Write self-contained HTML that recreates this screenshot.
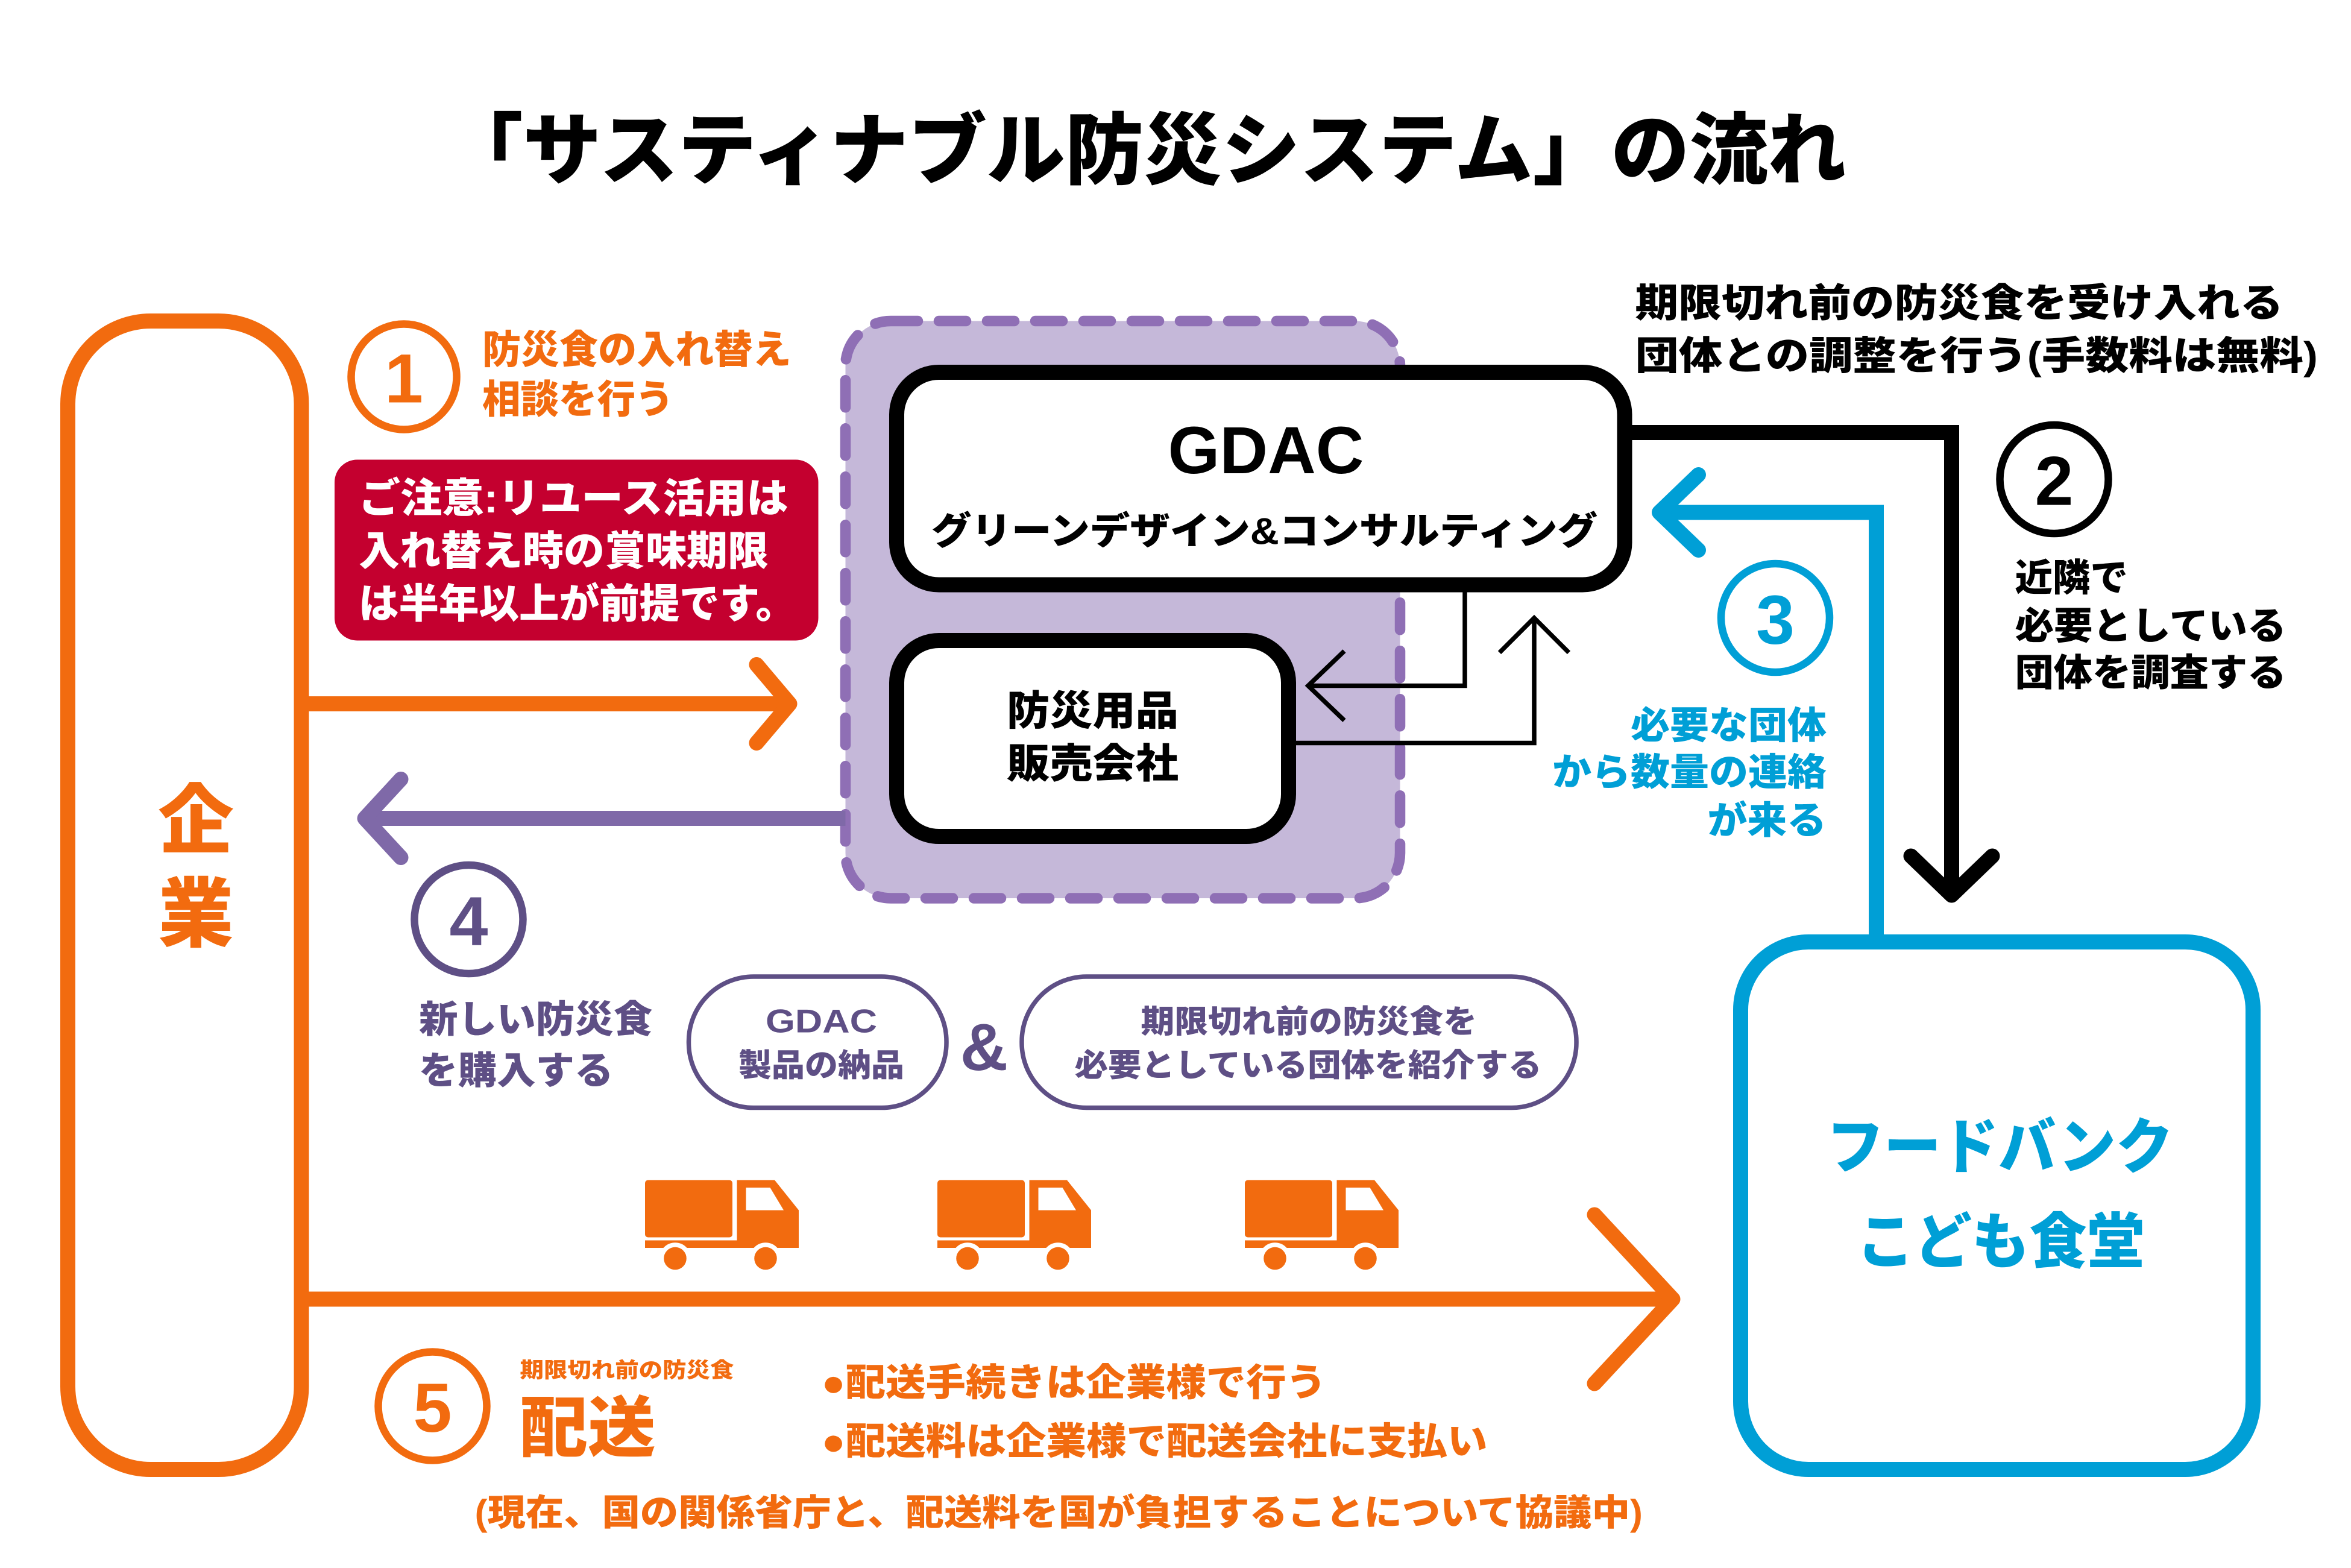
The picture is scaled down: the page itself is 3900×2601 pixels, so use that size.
<!DOCTYPE html>
<html><head><meta charset="utf-8"><style>
html,body{margin:0;padding:0;background:#fff;width:3900px;height:2601px;overflow:hidden}
svg{display:block}
text{font-family:"Liberation Sans","Noto Sans CJK JP",sans-serif;font-weight:900}
</style></head><body>
<svg width="3900" height="2601" viewBox="0 0 1560 1040.4" xmlns="http://www.w3.org/2000/svg">
<defs>
<g id="truck">
<rect x="0" y="0" width="58" height="38" rx="2" fill="#F26B0F"/>
<path d="M61 0 H86 L102 20 V45 H0 V40 H61 Z" fill="#F26B0F"/>
<path d="M67 5 H83 L92 20 H67 Z" fill="#fff"/>
<circle cx="20" cy="52" r="9" fill="#F26B0F" stroke="#fff" stroke-width="3"/>
<circle cx="80" cy="52" r="9" fill="#F26B0F" stroke="#fff" stroke-width="3"/>
</g>
</defs>
<text x="295" y="118" font-size="52" textLength="930" lengthAdjust="spacingAndGlyphs" fill="#000">「サスティナブル防災システム」の流れ</text>

<rect x="45" y="213" width="155" height="762" rx="55" fill="none" stroke="#F26B0F" stroke-width="10"/>
<text x="130" y="562" font-size="50" text-anchor="middle" fill="#F26B0F">企</text>
<text x="130" y="624" font-size="50" text-anchor="middle" fill="#F26B0F">業</text>

<circle cx="268" cy="250" r="35" fill="none" stroke="#F26B0F" stroke-width="5"/>
<text x="268" y="267" font-size="46" text-anchor="middle" fill="#F26B0F">1</text>
<text x="320" y="241" font-size="26" textLength="205" lengthAdjust="spacingAndGlyphs" fill="#F26B0F">防災食の入れ替え</text>
<text x="320" y="274" font-size="26" textLength="127" lengthAdjust="spacingAndGlyphs" fill="#F26B0F">相談を行う</text>
<rect x="222" y="305" width="321" height="120" rx="15" fill="#C4002F"/>
<text x="238" y="340" font-size="27" textLength="285" lengthAdjust="spacingAndGlyphs" fill="#fff">ご注意:リユース活用は</text>
<text x="238" y="375" font-size="27" textLength="272" lengthAdjust="spacingAndGlyphs" fill="#fff">入れ替え時の賞味期限</text>
<text x="238" y="410" font-size="27" textLength="290" lengthAdjust="spacingAndGlyphs" fill="#fff">は半年以上が前提です。</text>
<line x1="200" y1="467" x2="522" y2="467" stroke="#F26B0F" stroke-width="10"/>
<polyline points="502,441 524,467 502,493" fill="none" stroke="#F26B0F" stroke-width="10" stroke-linecap="round" stroke-linejoin="round"/>

<rect x="561" y="213" width="368" height="383" rx="30" fill="#C5B8D9" stroke="#8F6FB5" stroke-width="7" stroke-dasharray="18 14" stroke-linecap="round"/>
<rect x="595" y="247" width="483" height="141" rx="28" fill="#fff" stroke="#000" stroke-width="10"/>
<text x="775" y="314" font-size="44" textLength="130" lengthAdjust="spacingAndGlyphs" fill="#000">GDAC</text>
<text x="618" y="361" font-size="25" textLength="442" lengthAdjust="spacingAndGlyphs" fill="#000">グリーンデザイン&amp;コンサルティング</text>
<rect x="595" y="425" width="260" height="130" rx="28" fill="#fff" stroke="#000" stroke-width="10"/>
<text x="668" y="481" font-size="27" textLength="114" lengthAdjust="spacingAndGlyphs" fill="#000">防災用品</text>
<text x="668" y="516" font-size="27" textLength="114" lengthAdjust="spacingAndGlyphs" fill="#000">販売会社</text>
<polyline points="972,393 972,455 868,455" fill="none" stroke="#000" stroke-width="3"/>
<polyline points="892,432 868,455 892,478" fill="none" stroke="#000" stroke-width="3"/>
<polyline points="858,493 1018,493 1018,410" fill="none" stroke="#000" stroke-width="3"/>
<polyline points="995,433 1018,410 1041,433" fill="none" stroke="#000" stroke-width="3"/>

<line x1="561" y1="543" x2="243" y2="543" stroke="#7F69A8" stroke-width="10"/>
<polyline points="266,517 242,543 266,569" fill="none" stroke="#7F69A8" stroke-width="10" stroke-linecap="round" stroke-linejoin="round"/>

<polyline points="1078,287 1295,287 1295,592" fill="none" stroke="#000" stroke-width="10"/>
<polyline points="1268,568 1295,594 1322,568" fill="none" stroke="#000" stroke-width="10" stroke-linecap="round" stroke-linejoin="round"/>
<text x="1085" y="210" font-size="26" textLength="430" lengthAdjust="spacingAndGlyphs" fill="#000">期限切れ前の防災食を受け入れる</text>
<text x="1085" y="245" font-size="26" textLength="453" lengthAdjust="spacingAndGlyphs" fill="#000">団体との調整を行う(手数料は無料)</text>
<circle cx="1363" cy="318" r="36" fill="none" stroke="#000" stroke-width="5"/>
<text x="1363" y="335" font-size="46" text-anchor="middle" fill="#000">2</text>
<text x="1337" y="392" font-size="25" textLength="75" lengthAdjust="spacingAndGlyphs" fill="#000">近隣で</text>
<text x="1337" y="424" font-size="25" textLength="180" lengthAdjust="spacingAndGlyphs" fill="#000">必要としている</text>
<text x="1337" y="455" font-size="25" textLength="180" lengthAdjust="spacingAndGlyphs" fill="#000">団体を調査する</text>

<polyline points="1245,622 1245,340 1103,340" fill="none" stroke="#009FD6" stroke-width="10"/>
<polyline points="1127,315 1101,340 1127,365" fill="none" stroke="#009FD6" stroke-width="10" stroke-linecap="round" stroke-linejoin="round"/>
<circle cx="1178" cy="410" r="36" fill="none" stroke="#009FD6" stroke-width="5"/>
<text x="1178" y="427" font-size="46" text-anchor="middle" fill="#009FD6">3</text>
<text x="1082" y="490" font-size="25" textLength="130" lengthAdjust="spacingAndGlyphs" fill="#009FD6">必要な団体</text>
<text x="1030" y="521" font-size="25" textLength="182" lengthAdjust="spacingAndGlyphs" fill="#009FD6">から数量の連絡</text>
<text x="1133" y="553" font-size="25" textLength="79" lengthAdjust="spacingAndGlyphs" fill="#009FD6">が来る</text>
<rect x="1155" y="625" width="340" height="350" rx="45" fill="none" stroke="#009FD6" stroke-width="10"/>
<text x="1212" y="775" font-size="40" textLength="230" lengthAdjust="spacingAndGlyphs" fill="#009FD6">フードバンク</text>
<text x="1232" y="838" font-size="40" textLength="191" lengthAdjust="spacingAndGlyphs" fill="#009FD6">こども食堂</text>

<circle cx="311" cy="610" r="36" fill="none" stroke="#5E4F85" stroke-width="5"/>
<text x="311" y="627" font-size="46" text-anchor="middle" fill="#5E4F85">4</text>
<text x="278" y="685" font-size="25" textLength="155" lengthAdjust="spacingAndGlyphs" fill="#5E4F85">新しい防災食</text>
<text x="278" y="719" font-size="25" textLength="129" lengthAdjust="spacingAndGlyphs" fill="#5E4F85">を購入する</text>
<rect x="457" y="648" width="171" height="87" rx="43" fill="none" stroke="#5E4F85" stroke-width="3"/>
<text x="508" y="685" font-size="22" textLength="74" lengthAdjust="spacingAndGlyphs" fill="#5E4F85">GDAC</text>
<text x="490" y="714" font-size="21" textLength="110" lengthAdjust="spacingAndGlyphs" fill="#5E4F85">製品の納品</text>
<text x="653" y="710" font-size="44" text-anchor="middle" fill="#5E4F85">&amp;</text>
<rect x="678" y="648" width="368" height="87" rx="43" fill="none" stroke="#5E4F85" stroke-width="3"/>
<text x="757" y="685" font-size="21" textLength="223" lengthAdjust="spacingAndGlyphs" fill="#5E4F85">期限切れ前の防災食を</text>
<text x="713" y="714" font-size="21" textLength="310" lengthAdjust="spacingAndGlyphs" fill="#5E4F85">必要としている団体を紹介する</text>

<use href="#truck" x="428" y="783"/>
<use href="#truck" x="622" y="783"/>
<use href="#truck" x="826" y="783"/>

<line x1="200" y1="862" x2="1108" y2="862" stroke="#F26B0F" stroke-width="10"/>
<polyline points="1058,806 1110,862 1058,918" fill="none" stroke="#F26B0F" stroke-width="10" stroke-linecap="round" stroke-linejoin="round"/>

<circle cx="287" cy="933" r="36" fill="none" stroke="#F26B0F" stroke-width="5"/>
<text x="287" y="950" font-size="46" text-anchor="middle" fill="#F26B0F">5</text>
<text x="345" y="914" font-size="14" textLength="142" lengthAdjust="spacingAndGlyphs" fill="#F26B0F">期限切れ前の防災食</text>
<text x="345" y="963" font-size="44" textLength="90" lengthAdjust="spacingAndGlyphs" fill="#F26B0F">配送</text>
<text x="545" y="926" font-size="25" textLength="335" lengthAdjust="spacingAndGlyphs" fill="#F26B0F">●配送手続きは企業様で行う</text>
<text x="545" y="965" font-size="25" textLength="442" lengthAdjust="spacingAndGlyphs" fill="#F26B0F">●配送料は企業様で配送会社に支払い</text>
<text x="315" y="1012" font-size="24" textLength="775" lengthAdjust="spacingAndGlyphs" fill="#F26B0F">(現在、国の関係省庁と、配送料を国が負担することについて協議中)</text>
</svg>
</body></html>
